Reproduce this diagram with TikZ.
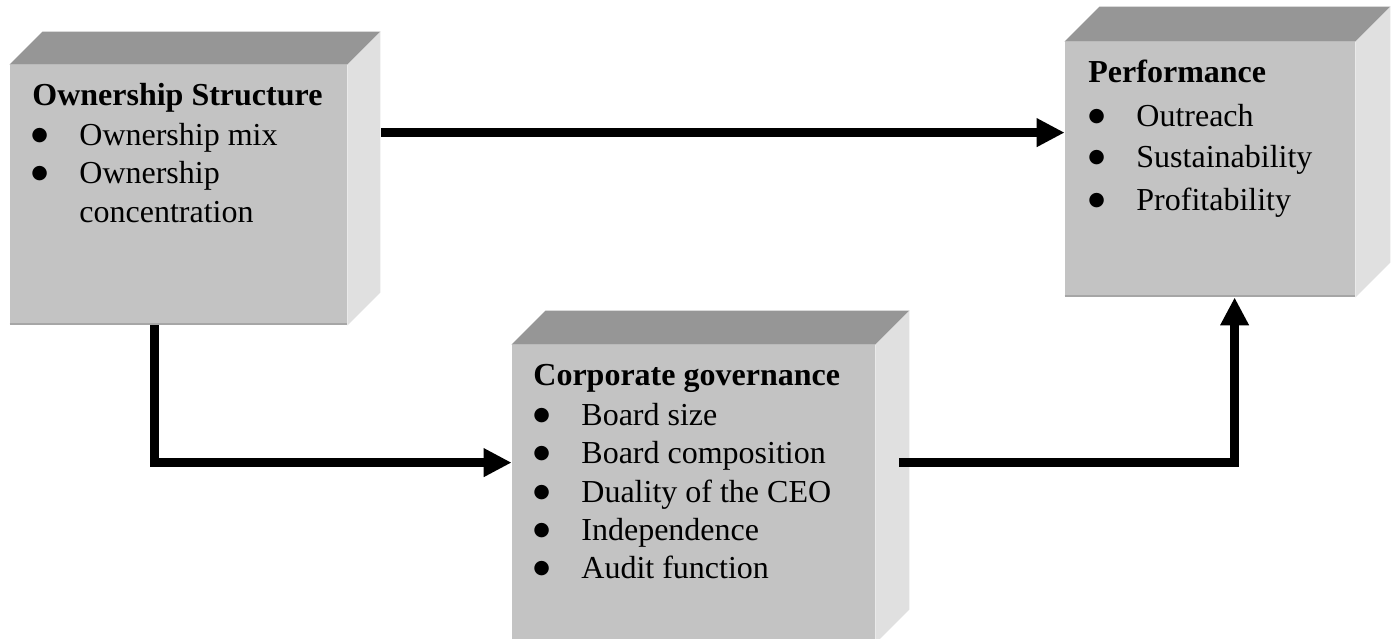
\documentclass[tikz,border=0pt]{standalone}
\usepackage{fontspec}
\setmainfont{Liberation Serif}
\newfontfamily\symfont{DejaVu Sans}
\usetikzlibrary{arrows.meta,calc,fit}
\tikzset{
  front/.style={fill=frontgray, draw=none, inner sep=0pt},
  topface/.style={fill=topgray, draw=none},
  sideface/.style={fill=sidegray, draw=none},
  edgeline/.style={draw=edgegray, line width=1pt},
  conn/.style={line width=4.5pt, draw=black},
  arr/.style={conn, -{Triangle[length=14pt,width=13.5pt]}},
  txt/.style={anchor=base west, inner sep=0pt, font=\fontsize{16}{19}\selectfont},
  head/.style={txt, font=\fontsize{16}{19}\selectfont\bfseries},
  bull/.style={anchor=base west, inner sep=0pt, font=\symfont\fontsize{9.5}{10}\selectfont}
}
\definecolor{frontgray}{HTML}{C3C3C3}
\definecolor{topgray}{HTML}{969696}
\definecolor{sidegray}{HTML}{E0E0E0}
\definecolor{edgegray}{HTML}{A6A6A6}
\newcommand{\solidbox}[2]{%
  \fill[topface] (#1.north west) -- ++(#2,-#2) -- ($(#1.north east)+(#2,-#2)$) -- (#1.north east) -- cycle;
  \fill[sideface] (#1.north east) -- ++(#2,-#2) -- ($(#1.south east)+(#2,-#2)$) -- (#1.south east) -- cycle;
  \draw[edgeline] ([yshift=0.5pt]#1.south west) -- ([yshift=0.5pt]#1.south east);
}
\begin{document}
\begin{tikzpicture}[x=0.5pt,y=-0.5pt]
\useasboundingbox (0,0) rectangle (1396,638);
\clip (0,0) rectangle (1396,638);
\fill[white] (0,0) rectangle (1396,638);
% boxes
\node[front, fit={(10,65)(347,325)}] (b1) {};
\solidbox{b1}{33}
\node[front, fit={(512,345)(875,643)}] (b2) {};
\solidbox{b2}{34}
\node[front, fit={(1065,42)(1355,297)}] (b3) {};
\solidbox{b3}{35}
% texts box 1
\node[head] (h1) at (32,105) {Ownership Structure};
\node[bull] (a1b) at (31,140) {●};
\node[txt] (a1) at (79,145) {Ownership mix};
\node[bull] (a2b) at (31,178) {●};
\node[txt] (a2) at (79,183) {Ownership};
\node[txt] (a3) at (79,222) {concentration};
% texts box 2
\node[head] (h2) at (533,385) {Corporate governance};
\node[bull] (c1b) at (533,420) {●};
\node[txt] (c1) at (581,425) {Board size};
\node[bull] (c2b) at (533,458) {●};
\node[txt] (c2) at (581,463) {Board composition};
\node[bull] (c3b) at (533,497) {●};
\node[txt] (c3) at (581,502) {Duality of the CEO};
\node[bull] (c4b) at (533,535) {●};
\node[txt] (c4) at (581,540) {Independence};
\node[bull] (c5b) at (533,573) {●};
\node[txt] (c5) at (581,578) {Audit function};
% texts box 3
\node[head] (h3) at (1088,82) {Performance};
\node[bull] (p1b) at (1088,121) {●};
\node[txt] (p1) at (1136,126) {Outreach};
\node[bull] (p2b) at (1088,162) {●};
\node[txt] (p2) at (1136,167) {Sustainability};
\node[bull] (p3b) at (1088,205) {●};
\node[txt] (p3) at (1136,210) {Profitability};
% connectors
\coordinate (s1) at ($(b1.north east)+(34,68)$);
\draw[arr] (s1) -- (s1 -| b3.west);
\coordinate (l1) at ($(b1.south west)+(145,0)$);
\coordinate (l2) at ($(b2.north west)+(0,118)$);
\draw[arr] (l1) |- (l2);
\coordinate (r1) at ($(b2.north east)+(24,118)$);
\coordinate (r2) at ($(b3.south west)+(170,0)$);
\draw[arr] (r1) -| (r2);
\end{tikzpicture}
\end{document}
